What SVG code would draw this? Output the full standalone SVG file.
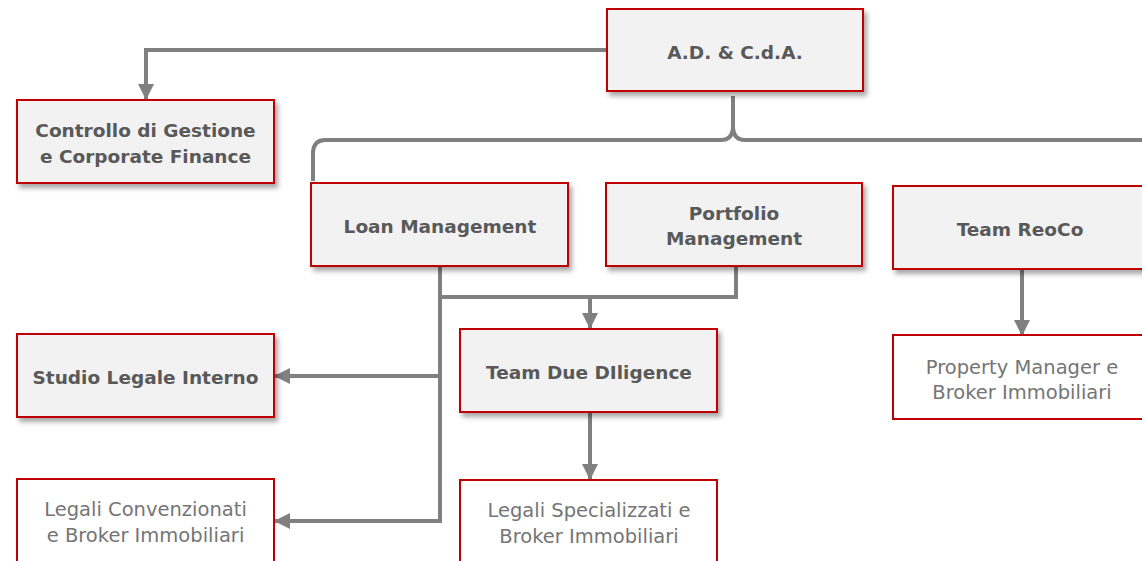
<svg xmlns="http://www.w3.org/2000/svg" width="1142" height="561" viewBox="0 0 1142 561">
<style>
.box{fill:#f2f2f2;stroke:#c00000;stroke-width:2;filter:url(#sh)}
.wbox{fill:#ffffff;stroke:#c00000;stroke-width:2}
.b{font-family:"DejaVu Sans",sans-serif;font-weight:bold;font-size:18.5px;fill:#595959;text-anchor:middle;dominant-baseline:central}
.r{font-family:"DejaVu Sans",sans-serif;font-weight:normal;font-size:19.5px;fill:#757575;text-anchor:middle;dominant-baseline:central}
.c{fill:none;stroke:#808080;stroke-width:4}
</style>
<defs>
<filter id="sh" x="-10%" y="-10%" width="125%" height="135%">
<feDropShadow dx="3" dy="4" stdDeviation="2.5" flood-color="#000" flood-opacity="0.35"/>
</filter>
<marker id="ah" markerUnits="userSpaceOnUse" markerWidth="16" markerHeight="16" viewBox="0 0 16 16" refX="15" refY="8" orient="auto">
<path d="M0,0 L16,8 L0,16 Z" fill="#808080"/>
</marker>
</defs>
<g id="connectors">
<path class="c" d="M607,50 H146 V99" marker-end="url(#ah)"/>
<path class="c" d="M733,96 V126 Q733,140 745,140 H1142"/>
<path class="c" d="M733,126 Q733,140 721,140 H325 Q314,140 313,152 V181"/>
<path class="c" d="M440,266 V521 H275" marker-end="url(#ah)"/>
<path class="c" d="M440,376 H275" marker-end="url(#ah)"/>
<path class="c" d="M736,266 V297 H440"/>
<path class="c" d="M590,297 V328" marker-end="url(#ah)"/>
<path class="c" d="M590,412 V479" marker-end="url(#ah)"/>
<path class="c" d="M1022,269 V335" marker-end="url(#ah)"/>
</g>
<g id="ad">
<rect class="box" x="607" y="9" width="256" height="82"/>
<text class="b" x="735" y="52">A.D. &amp; C.d.A.</text>
</g>
<g id="controllo">
<rect class="box" x="17" y="100" width="257" height="83"/>
<text class="b" x="145.5" y="130">Controllo di Gestione</text>
<text class="b" x="145.5" y="156">e Corporate Finance</text>
</g>
<g id="loan">
<rect class="box" x="311" y="183" width="257" height="83"/>
<text class="b" x="440" y="226">Loan Management</text>
</g>
<g id="portfolio">
<rect class="box" x="606" y="183" width="256" height="83"/>
<text class="b" x="734" y="213">Portfolio</text>
<text class="b" x="734" y="238">Management</text>
</g>
<g id="reoco">
<rect class="box" x="893" y="186" width="262" height="83"/>
<text class="b" x="1020" y="229">Team ReoCo</text>
</g>
<g id="property">
<rect class="wbox" x="893" y="335" width="262" height="84"/>
<text class="r" x="1022" y="367">Property Manager e</text>
<text class="r" x="1022" y="392">Broker Immobiliari</text>
</g>
<g id="tdd">
<rect class="box" x="460" y="329" width="257" height="83"/>
<text class="b" x="589" y="372">Team Due DIligence</text>
</g>
<g id="studio">
<rect class="box" x="17" y="334" width="257" height="83"/>
<text class="b" x="145.5" y="377">Studio Legale Interno</text>
</g>
<g id="legaliconv">
<rect class="wbox" x="17" y="479" width="257" height="100"/>
<text class="r" x="145.5" y="509">Legali Convenzionati</text>
<text class="r" x="145.5" y="535">e Broker Immobiliari</text>
</g>
<g id="legalispec">
<rect class="wbox" x="460" y="480" width="257" height="100"/>
<text class="r" x="589" y="510">Legali Specializzati e</text>
<text class="r" x="589" y="536">Broker Immobiliari</text>
</g>
</svg>
